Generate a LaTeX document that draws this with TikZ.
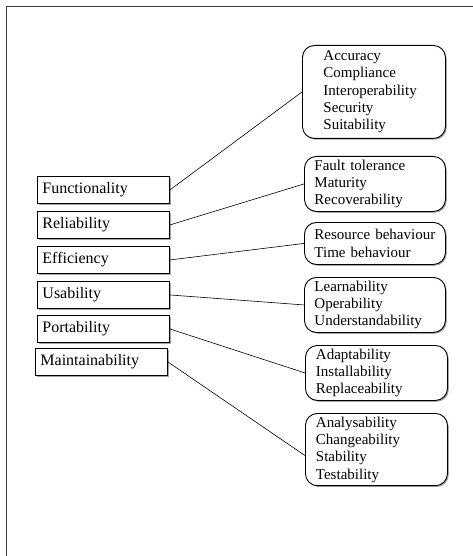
\documentclass[tikz,border=0pt]{standalone}
\usepackage{fontspec}
\setmainfont{Liberation Serif}
\usepackage{tikz}
\usetikzlibrary{shadows}
\definecolor{frameGrey}{RGB}{60,60,60}

\begin{document}
\begin{tikzpicture}[x=1pt, y=-1pt,
  charbox/.style={draw, line width=0.9pt, anchor=north west, minimum width=132pt, minimum height=27pt,
    inner xsep=5pt, text width=122pt, align=left, font=\fontsize{16}{18}\selectfont,
    fill=white, drop shadow={shadow xshift=1.3pt, shadow yshift=-1.3pt, fill=black!35, opacity=1}},
  subbox/.style={draw, line width=0.9pt, rounded corners=12pt, anchor=north west, minimum width=141pt,
    inner xsep=10pt, text width=121pt, align=left, font=\fontsize{15}{17.3}\selectfont,
    fill=white, drop shadow={shadow xshift=1.3pt, shadow yshift=-1.3pt, fill=black!35, opacity=1}},
  link/.style={line width=0.6pt}]
  \useasboundingbox (0,0) rectangle (473,556);
  % frame  only left and top edges show
  \draw[frameGrey, line width=0.8pt] (6,556) -- (6,6) -- (473,6);
  % characteristics  left column  y=176..375
  \node[charbox] (func) at (37,176) {Functionality};
  \node[charbox] (reli) at (37,211) {Reliability};
  \node[charbox] (effi) at (37,246) {Efficiency};
  \node[charbox] (usab) at (37,281) {Usability};
  \node[charbox] (port) at (37,315) {Portability};
  \node[charbox] (main) at (35,348) {Maintainability};
  % sub-characteristics  right column
  \node[subbox, minimum height=93pt, inner xsep=21pt, text width=101pt] (accu) at (302,45)
    {Accuracy\\Compliance\\Interoperability\\Security\\Suitability};
  \node[subbox, minimum height=55pt] (faul) at (304,156) {Fault tolerance\\Maturity\\Recoverability};
  \node[subbox, minimum height=42pt] (reso) at (304,222) {Resource behaviour\\Time behaviour};
  \node[subbox, minimum height=55pt] (lear) at (304,277) {Learnability\\Operability\\Understandability};
  \node[subbox, minimum height=55pt, minimum width=142pt] (adap) at (305,345) {Adaptability\\Installability\\Replaceability};
  \node[subbox, minimum height=72pt, minimum width=142pt] (anal) at (305,413) {Analysability\\Changeability\\Stability\\Testability};
  % connectors
  \draw[link] (func.east) -- (accu.west);
  \draw[link] (reli.east) -- (faul.west);
  \draw[link] (effi.east) -- (reso.west);
  \draw[link] (usab.east) -- (lear.west);
  \draw[link] (port.east) -- (adap.west);
  \draw[link] (main.east) -- ([yshift=-6pt]anal.west);
\end{tikzpicture}
\end{document}
